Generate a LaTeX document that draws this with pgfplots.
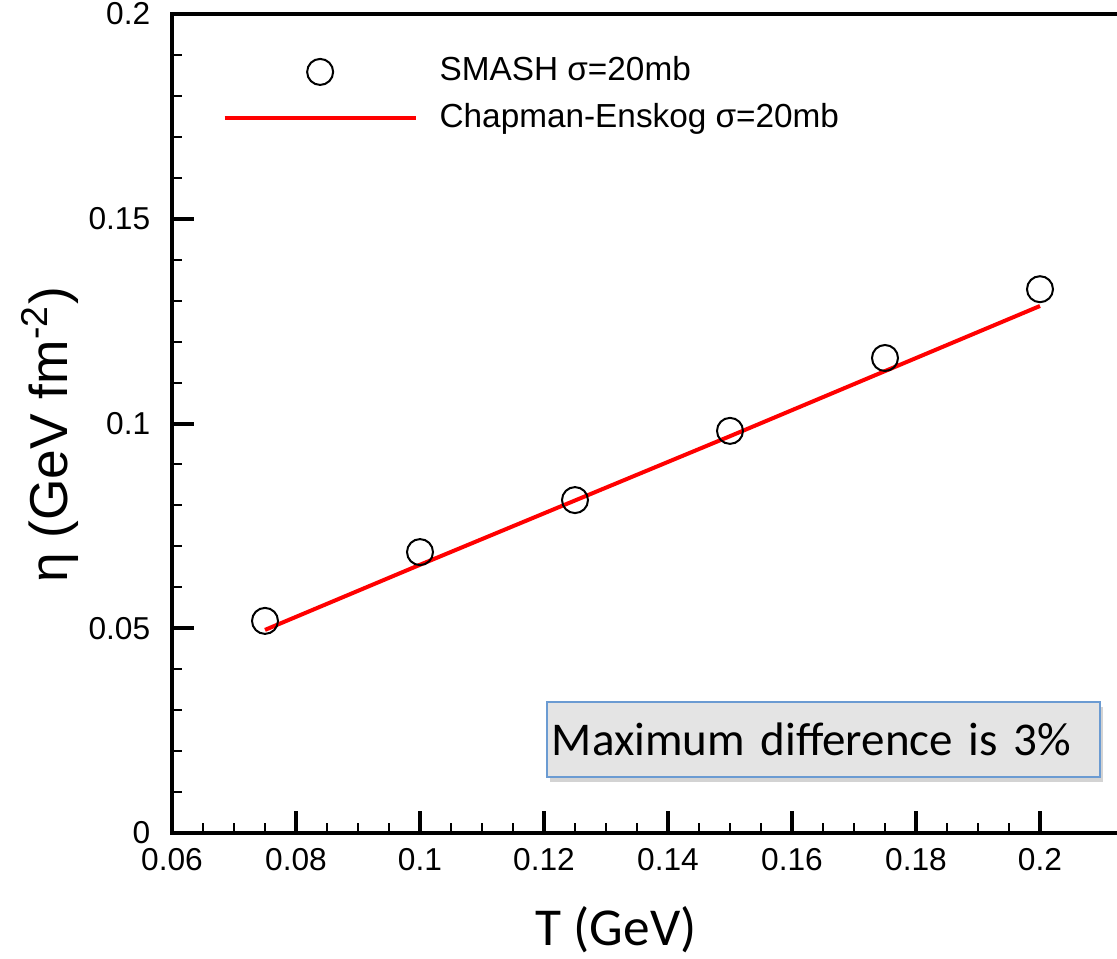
\documentclass[border=0pt]{standalone}
\usepackage{fontspec}
\setmainfont{Liberation Sans}
\newfontfamily\calibri{Carlito}
\usepackage{pgfplots}
\pgfplotsset{compat=1.18}
\usetikzlibrary{shadows}
\definecolor{boxblue}{HTML}{6B9BD2}
\definecolor{boxgray}{HTML}{E4E4E4}
\pgfplotsset{
  markleg/.style={legend image code/.code={\draw[mark repeat=2,mark phase=2,##1] plot coordinates {(-28.65pt,0pt)(0pt,0pt)(28.65pt,0pt)};}},
  lineleg/.style={legend image code/.code={\draw[##1] (-28.65pt,0pt) -- (28.65pt,0pt);}},
}

\begin{document}
\begin{tikzpicture}
\begin{axis}[
  scale only axis, width=297.6pt, height=245.7pt,
  xmin=0.06, xmax=0.22, ymin=0, ymax=0.2,
  axis line style={line width=1.2pt},
  xtick={0.06,0.08,0.1,0.12,0.14,0.16,0.18,0.2},
  xticklabels={0.06,0.08,0.1,0.12,0.14,0.16,0.18,0.2},
  ytick={0,0.05,0.1,0.15,0.2},
  yticklabels={0,0.05,0.1,0.15,0.2},
  minor x tick num=3, minor y tick num=4,
  xtick pos=bottom, ytick pos=left, tick align=inside,
  major tick length=6.6pt, minor tick length=3pt,
  major tick style={line width=1.2pt,black},
  minor tick style={line width=0.6pt,black},
  ticklabel style={font=\fontsize{9.5}{11}\selectfont},
  xticklabel style={yshift=-1pt},
  yticklabel style={xshift=-3pt},
  xlabel={\calibri T (GeV)},
  xlabel style={at={(rel axis cs:0.4476,-0.1184)}, anchor=center, font=\fontsize{16}{18}\selectfont},
  ylabel={η (GeV fm\textsuperscript{-2})},
  ylabel style={at={(rel axis cs:-0.123,0.486)}, anchor=center, font=\fontsize{16}{18}\selectfont},
  legend style={at={(axis cs:0.06806,0.1802)}, anchor=west, draw=none, fill=none,
    inner sep=0pt, font=\fontsize{10}{12}\selectfont, row sep=4.6pt, column sep=6.6pt,
    nodes={inner sep=0pt, text height=7.3pt, text depth=2pt}},
  legend cell align=left,
]
\addplot[only marks, mark=o, mark size=3.9pt, mark options={line width=0.6pt, fill=white, draw=black}, markleg]
  coordinates {(0.075,0.0518)(0.1,0.0686)(0.125,0.0813)(0.15,0.0982)(0.175,0.1160)(0.2,0.1328)};
\addlegendentry{SMASH σ=20mb}
\addplot[red, line width=1.2pt, no marks, lineleg]
  coordinates {(0.075,0.0496)(0.1,0.0655)(0.125,0.0812)(0.15,0.0969)(0.175,0.1128)(0.2,0.1287)};
\addlegendentry{Chapman-Enskog σ=20mb}
\node[draw=boxblue, fill=boxgray, line width=0.6pt,
  drop shadow={shadow xshift=0.8pt, shadow yshift=-1.5pt, opacity=0.35},
  minimum width=165.9pt, minimum height=22.5pt, text width=162.9pt, align=left,
  inner xsep=1.5pt, font=\calibri\fontsize{14.1}{16}\selectfont]
  at (axis cs:0.16508,0.02283) {Maximum difference is 3\%};
\end{axis}
\pgfresetboundingbox
\path[use as bounding box] (-51.6pt,-37.5pt) rectangle (283.5pt,249.9pt);
\end{tikzpicture}
\end{document}
